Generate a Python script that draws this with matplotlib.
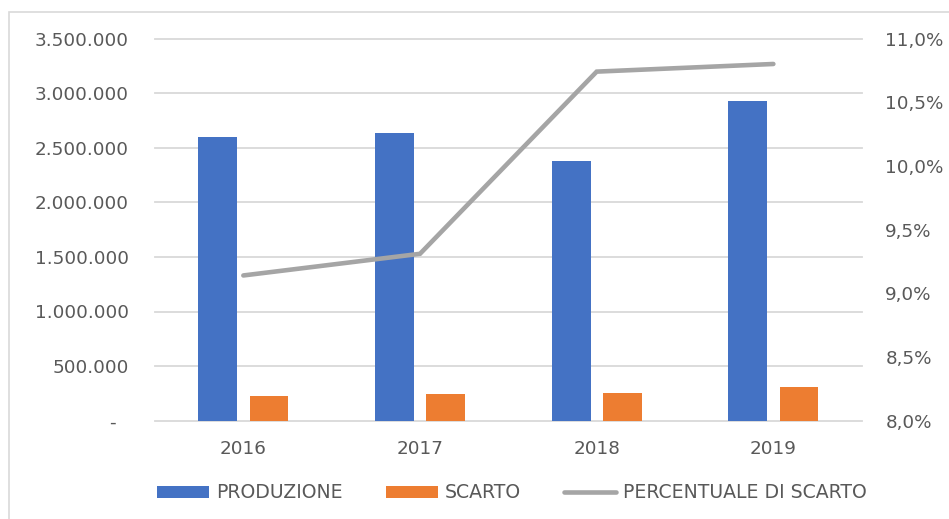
import matplotlib
matplotlib.use("Agg")
import matplotlib.pyplot as plt
from matplotlib.patches import Rectangle
import numpy as np

years = ["2016", "2017", "2018", "2019"]
produzione = [2595000, 2632000, 2381000, 2928000]
scarto = [229000, 242000, 254000, 311000]
percentuale = [0.0914, 0.0931, 0.1074, 0.1080]
left_ticks = [0, 500000, 1000000, 1500000, 2000000, 2500000, 3000000, 3500000]
right_ticks = [0.080, 0.085, 0.090, 0.095, 0.100, 0.105, 0.110]

TXT = "#595959"
GRID = "#D9D9D9"
plt.rcParams["font.family"] = ["DejaVu Sans"]
FS = 13.2

W, H = 949, 519
fig = plt.figure(figsize=(W / 100, H / 100), dpi=100)

# outer chart frame (partially visible)
fig.patches.append(Rectangle((8.5 / W, -0.05), 1.2, 1 - 12.3 / H + 0.05,
                             transform=fig.transFigure, fill=False,
                             edgecolor=GRID, linewidth=1.2))

left, right, top, bottom = 155, 861.7, 38.5, 420.7
ax = fig.add_axes([left / W, 1 - bottom / H, (right - left) / W, (bottom - top) / H])
ax2 = ax.twinx()

x = np.arange(len(years))
bw = 0.22
off = 0.145
b1 = ax.bar(x - off, produzione, bw, color="#4472C4", label="PRODUZIONE", zorder=2)
b2 = ax.bar(x + off, scarto, bw, color="#ED7D31", label="SCARTO", zorder=2)
l1, = ax2.plot(x, percentuale, color="#A5A5A5", linewidth=3.3,
               solid_capstyle="round", solid_joinstyle="miter",
               label="PERCENTUALE DI SCARTO")

ax.set_xlim(-0.5, len(years) - 0.5)
ax.set_ylim(0, 3500000)
ax2.set_ylim(0.08, 0.11)

ax.set_yticks(left_ticks)
ax.set_yticklabels(["-  " if v == 0 else f"{v:,.0f}".replace(",", ".") for v in left_ticks])
ax2.set_yticks(right_ticks)
ax2.set_yticklabels([f"{v * 100:.1f}%".replace(".", ",") for v in right_ticks])
ax.set_xticks(x)
ax.set_xticklabels(years)

ax.set_axisbelow(True)
ax.yaxis.grid(True, color=GRID, linewidth=1.3)
for gl in ax.yaxis.get_gridlines():
    gl.set_clip_on(False)
ax.xaxis.grid(False)
for a in (ax, ax2):
    for s in a.spines.values():
        s.set_visible(False)
ax.tick_params(axis="y", length=0, pad=19, labelsize=FS, labelcolor=TXT)
ax.tick_params(axis="x", length=0, pad=14, labelsize=FS, labelcolor=TXT)
ax2.tick_params(axis="y", length=0, pad=17, labelsize=FS, labelcolor=TXT)

fig.legend(handles=[b1, b2, l1], loc="center", ncol=3,
           bbox_to_anchor=(512 / W, 1 - 493 / H), frameon=False,
           fontsize=FS + 0.4, labelcolor=TXT, handlelength=2.75, handleheight=0.6,
           handletextpad=0.35, columnspacing=2.3, borderaxespad=0)

fig.savefig("out.png", dpi=100)
